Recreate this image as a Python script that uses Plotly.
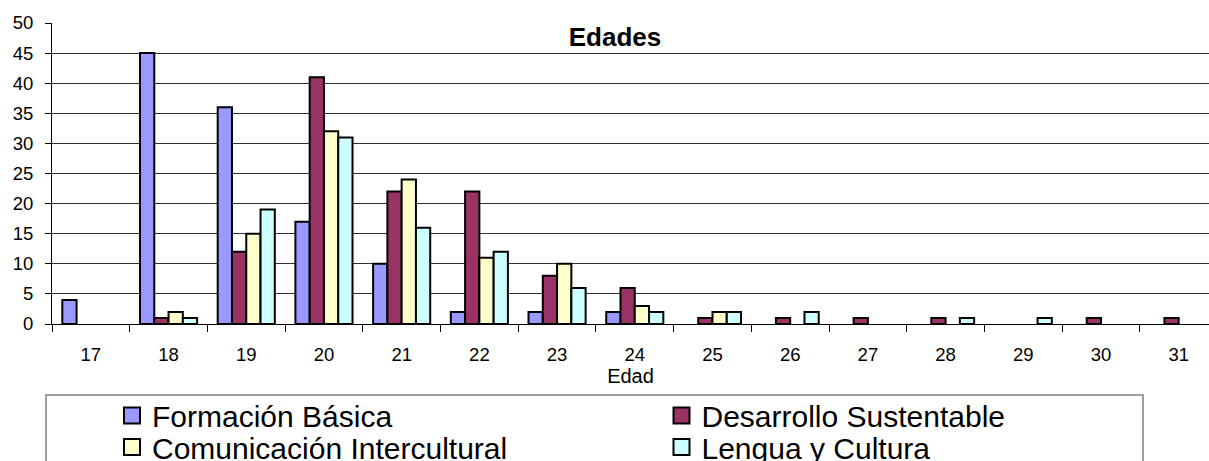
import plotly.graph_objects as go

# Age categories on the x axis
edades = ["17", "18", "19", "20", "21", "22", "23", "24", "25", "26", "27", "28", "29", "30", "31"]

# Number of students per age, one list per programme
formacion_basica = [4, 45, 36, 17, 10, 2, 2, 2, 0, 0, 0, 0, 0, 0, 0]
desarrollo_sustentable = [0, 1, 12, 41, 22, 22, 8, 6, 1, 1, 1, 1, 0, 1, 1]
comunicacion_intercultural = [0, 2, 15, 32, 24, 11, 10, 3, 2, 0, 0, 0, 0, 0, 0]
lengua_y_cultura = [0, 1, 19, 31, 16, 12, 6, 2, 2, 2, 0, 1, 1, 0, 0]

series_names = ["Formación Básica", "Desarrollo Sustentable",
                "Comunicación Intercultural", "Lengua y Cultura"]
series_values = [formacion_basica, desarrollo_sustentable,
                 comunicacion_intercultural, lengua_y_cultura]
series_colors = ["#9999FF", "#993366", "#FFFFCC", "#CCFFFF"]

FONT = "Arial, 'Liberation Sans', sans-serif"
W, H = 1209, 461
ML, MR, MT, MB = 52, 0, 23, 137
PW, PH = W - ML - MR, H - MT - MB


def px_x(p):
    return (p - ML) / PW


def px_y(p):
    return (MT + PH - p) / PH


fig = go.Figure()

for name, vals, color in zip(series_names, series_values, series_colors):
    # empty ages get no bar at all (no outline at the baseline)
    fig.add_trace(go.Bar(
        x=edades, y=[v if v else None for v in vals], name=name, showlegend=False,
        marker=dict(color=color, line=dict(color="black", width=2)),
    ))

# Legend swatches: one legend per entry so the two-column layout can be placed freely
legend_ids = ["legend", "legend2", "legend3", "legend4"]
legend_pos = [(112, 415.5), (661.5, 415.5), (112, 447), (661.5, 447)]
for name, color, lid in zip(series_names, series_colors, legend_ids):
    fig.add_trace(go.Scatter(
        x=[None], y=[None], mode="markers", name=name, legend=lid,
        marker=dict(symbol="square", size=16, color=color,
                    line=dict(color="black", width=2)),
    ))

legend_layout = {}
for lid, (lx, ly) in zip(legend_ids, legend_pos):
    legend_layout[lid] = dict(
        x=px_x(lx), y=px_y(ly), xanchor="left", yanchor="middle",
        bgcolor="rgba(0,0,0,0)", borderwidth=0,
        font=dict(family=FONT, size=30, color="black"),
        itemwidth=30,
    )

fig.update_layout(
    width=W, height=H,
    margin=dict(l=ML, r=MR, t=MT, b=MB, pad=0, autoexpand=False),
    paper_bgcolor="white", plot_bgcolor="white",
    barmode="group", bargap=0.265, bargroupgap=0,
    font=dict(family=FONT, color="black"),
    title=dict(text="<b>Edades</b>", x=615 / W, xanchor="center",
               y=1 - 37 / H, yanchor="middle", yref="container",
               font=dict(family=FONT, size=26, color="black")),
    xaxis=dict(
        type="category", range=[-0.5, 14.39],
        showgrid=False, showline=True, linecolor="black", linewidth=1,
        ticks="outside", tickson="boundaries", ticklen=7, tickcolor="black",
        tickfont=dict(family=FONT, size=18.5, color="black"),
        ticklabelstandoff=14,
        title=dict(text="Edad", standoff=2,
                   font=dict(family=FONT, size=20, color="black")),
    ),
    yaxis=dict(
        range=[0, 50], dtick=5, tick0=0,
        showgrid=True, gridcolor="#303030", gridwidth=1,
        showline=True, linecolor="black", linewidth=1,
        ticks="outside", ticklen=6, tickcolor="black",
        tickfont=dict(family=FONT, size=18.5, color="black"),
        ticklabelstandoff=8, zeroline=False,
    ),
    shapes=[dict(
        type="rect", xref="paper", yref="paper",
        x0=px_x(46), x1=px_x(1143), y0=px_y(395), y1=px_y(475),
        line=dict(color="#7f7f7f", width=1.5), fillcolor="rgba(0,0,0,0)",
        layer="above",
    )],
    **legend_layout,
)

fig.write_html("out.html")
